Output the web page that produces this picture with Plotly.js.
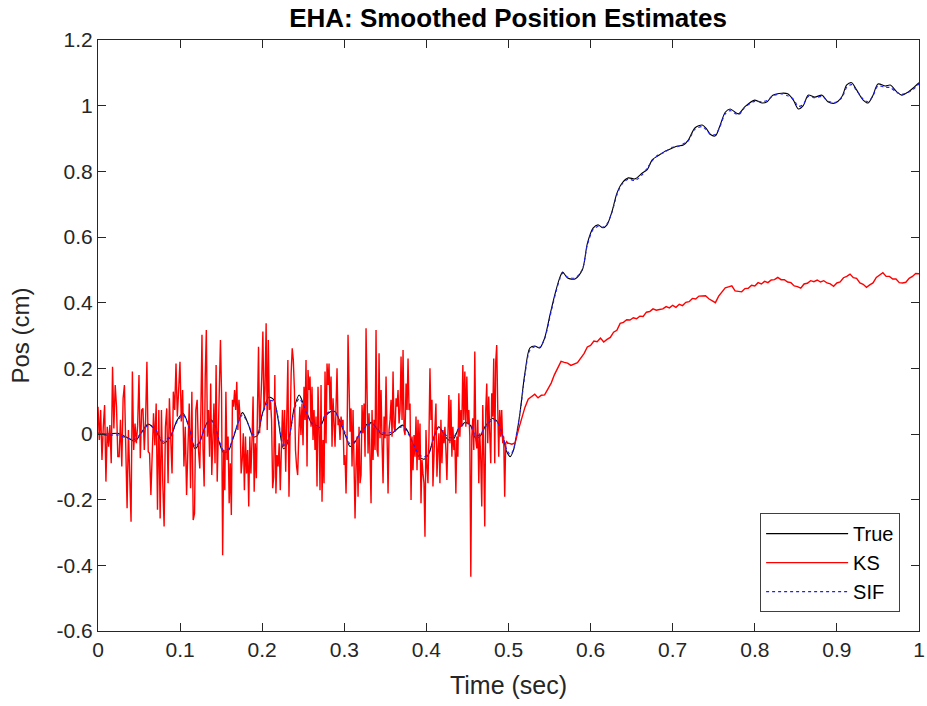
<!DOCTYPE html>
<html>
<head>
<meta charset="utf-8">
<script src="https://cdn.plot.ly/plotly-3.0.1.min.js"></script>
<style>html,body{margin:0;padding:0;background:#fff}#chart{width:927px;height:706px}</style>
</head>
<body>
<div id="chart"></div>
<script>
// ---- Data ----
// True position (irregular time samples) and SIF estimate at the same times
const trueT = [0,0.012,0.024,0.035,0.045,0.053,0.061,0.07,0.079,0.088,
0.096,0.1035,0.111,0.118,0.124,0.13,0.136,0.142,0.147,0.153,
0.159,0.165,0.176,0.183,0.189,0.194,0.2,0.208,0.214,0.219,
0.226,0.232,0.239,0.245,0.25,0.256,0.262,0.27,0.276,0.283,
0.289,0.295,0.301,0.307,0.313,0.32,0.327,0.333,0.339,0.345,
0.355,0.362,0.371,0.378,0.385,0.391,0.397,0.403,0.409,0.415,
0.421,0.427,0.433,0.439,0.448,0.454,0.46,0.466,0.472,0.481,
0.487,0.493,0.498,0.502,0.506,0.51,0.514,0.52,0.526,0.532,
0.538,0.544,0.551,0.557,0.563,0.566,0.572,0.581,0.59,0.596,
0.603,0.609,0.615,0.62,0.626,0.632,0.638,0.646,0.654,0.663,
0.669,0.675,0.682,0.69,0.699,0.706,0.713,0.719,0.727,0.736,
0.741,0.746,0.752,0.757,0.764,0.77,0.78,0.788,0.8,0.809,
0.815,0.822,0.833,0.84,0.847,0.853,0.859,0.865,0.873,0.882,
0.889,0.898,0.906,0.912,0.918,0.924,0.932,0.938,0.944,0.95,
0.959,0.965,0.973,0.979,0.987,0.993,1.0];
const trueY = [0.003,0.0,0.002,-0.01,-0.022,0.005,0.03,0.012,-0.028,-0.01,
0.04,0.063,0.02,-0.045,-0.025,0.02,0.045,0.03,-0.02,-0.057,
-0.05,-0.01,0.065,0.03,-0.008,-0.005,0.06,0.112,0.105,0.05,
-0.045,-0.02,0.08,0.119,0.093,0.055,0.024,0.02,0.05,0.068,
0.068,0.035,-0.002,-0.038,-0.025,0.008,0.028,0.035,0.018,0.0,
-0.003,0.01,0.027,0.005,-0.04,-0.069,-0.077,-0.06,-0.01,0.022,
0.0,-0.018,-0.015,0.015,0.036,0.025,-0.013,-0.005,0.025,0.048,
0.035,-0.01,-0.055,-0.069,-0.05,0.0,0.064,0.186,0.262,0.268,
0.262,0.292,0.368,0.43,0.48,0.493,0.475,0.472,0.5,0.58,
0.627,0.637,0.628,0.637,0.677,0.733,0.763,0.78,0.777,0.795,
0.805,0.835,0.847,0.86,0.87,0.877,0.88,0.895,0.932,0.941,
0.93,0.912,0.908,0.935,0.98,0.99,0.975,0.997,1.017,1.008,
1.012,1.032,1.038,1.036,1.017,0.99,1.0,1.032,1.026,1.032,
1.012,1.008,1.027,1.063,1.07,1.048,1.017,1.008,1.032,1.066,
1.06,1.063,1.042,1.032,1.042,1.054,1.07];
const sifY = [0.0,-0.004,-0.003,-0.012,-0.016,0.004,0.026,0.014,-0.022,-0.006,
0.036,0.058,0.022,-0.038,-0.022,0.018,0.042,0.03,-0.014,-0.05,
-0.045,-0.006,0.058,0.03,-0.002,0.002,0.058,0.1,0.1,0.055,
-0.035,-0.015,0.072,0.108,0.09,0.052,0.03,0.025,0.055,0.07,
0.065,0.038,0.004,-0.03,-0.022,0.005,0.024,0.032,0.02,0.005,
0.004,0.012,0.022,0.0,-0.035,-0.062,-0.07,-0.058,-0.012,0.02,
0.004,-0.01,-0.01,0.016,0.032,0.028,-0.006,0.0,0.022,0.044,
0.034,-0.004,-0.048,-0.062,-0.048,0.004,0.062,0.18,0.255,0.266,
0.264,0.29,0.362,0.425,0.476,0.49,0.478,0.475,0.502,0.575,
0.622,0.632,0.63,0.64,0.675,0.728,0.76,0.776,0.772,0.79,
0.81,0.832,0.85,0.858,0.873,0.875,0.884,0.893,0.928,0.936,
0.926,0.912,0.912,0.932,0.975,0.985,0.972,0.995,1.013,1.012,
1.016,1.03,1.036,1.03,1.02,0.998,1.004,1.028,1.024,1.028,
1.014,1.01,1.024,1.056,1.064,1.046,1.02,1.012,1.03,1.06,
1.056,1.055,1.04,1.035,1.04,1.05,1.066];

// KS estimate: noisy part in four consecutive time windows
const ksWindows = [0, 0.124, 0.2485, 0.374, 0.499];
const ksNoise1 = [0.083,-0.018,0.073,-0.079,0.022,0.088,-0.145,0.022,-0.039,0.027,
-0.089,0.205,0.017,0.149,0.083,-0.069,-0.069,0.043,-0.099,0.109,
0.149,-0.064,-0.226,0.012,-0.14,-0.267,0.19,-0.049,0.032,-0.028,
0.027,0.18,-0.074,0.073,0.078,-0.049,0.043,0.22,-0.054,-0.059,
-0.186,-0.079,0.063,-0.034,0.093,-0.231,0.073,-0.257,0.073,-0.15,
-0.282,0.022,0.078,-0.15,0.109,-0.013,-0.12,0.129,0.073,0.215,
0.053,0.134,0.22,0.038,0.134,-0.099,0.022,-0.186,-0.049,0.093,
-0.165,0.129,-0.262,-0.242,0.073,0.104,-0.049];
const ksNoise2 = [-0.105,0.073,0.302,-0.049,-0.16,0.175,0.317,-0.008,0.073,-0.069,
0.154,-0.125,-0.018,0.093,-0.089,0.21,-0.145,-0.023,0.093,0.286,
0.124,-0.369,-0.049,-0.171,0.129,-0.079,-0.008,-0.211,-0.089,-0.247,
0.104,0.083,0.134,0.073,0.159,0.012,0.104,0.053,-0.12,-0.079,
0.002,-0.171,-0.008,-0.12,-0.049,-0.221,-0.008,-0.12,-0.018,0.114,
-0.176,-0.028,-0.135,0.114,0.266,0.002,0.073,0.175,0.312,0.073,
0.139,0.337,0.012,0.286,0.073,0.104,0.043,-0.165,-0.13,0.18,
-0.181,-0.064,-0.099,-0.028,-0.171,0.012,0.073,-0.039,0.073,-0.115,
0.109,0.225,-0.191,0.073,0.185,0.261,0.225,0.134,-0.049,-0.099,
-0.125,-0.008,0.083,-0.003];
const ksNoise3 = [0.093,-0.034,0.144,0.043,0.225,-0.099,0.195,0.134,0.175,0.022,
0.144,-0.018,0.073,-0.049,0.053,-0.16,0.144,0.012,-0.171,0.149,
-0.206,-0.018,-0.15,0.19,-0.028,0.215,0.149,0.215,0.073,0.175,
-0.039,0.109,0.022,-0.039,0.083,0.2,0.027,0.043,-0.018,0.053,
0.027,0.043,-0.094,-0.064,-0.181,-0.028,0.302,0.078,0.007,0.078,
-0.099,0.073,-0.171,-0.257,-0.099,-0.008,-0.191,0.022,-0.15,-0.125,
0.088,0.002,0.093,-0.069,0.322,0.073,-0.059,0.063,-0.059,-0.211,
0.073,-0.079,0.043,-0.049,0.317,-0.049,-0.069,0.246,-0.013,0.134,
-0.028,-0.15,0.053,-0.013,0.175,-0.039,-0.181,0.012,0.043,0.104,
-0.008,0.19,0.022,0.007,0.109,0.083,0.134,0.032,0.073,0.236,
0.043,0.256,0.012];
const ksNoise4 = [-0.003,0.154,0.073,0.23,0.073,0.093,-0.201,-0.008,-0.11,-0.003,
-0.069,0.053,-0.11,0.043,-0.079,0.032,-0.211,-0.079,-0.12,-0.15,
-0.313,0.012,-0.099,-0.15,-0.008,0.2,0.043,0.104,-0.16,-0.039,
0.022,0.093,-0.13,-0.049,0.002,-0.15,0.043,-0.089,0.012,-0.028,
0.022,-0.049,-0.14,-0.008,0.119,-0.028,0.104,-0.069,0.022,-0.049,
-0.018,-0.181,-0.008,-0.069,0.124,-0.008,0.073,0.022,0.21,0.043,
0.19,0.022,0.175,0.032,0.073,-0.008,-0.435,-0.008,0.048,-0.049,
0.251,-0.018,-0.044,0.043,-0.15,0.002,-0.079,-0.221,0.088,-0.069,
-0.282,0.073,0.154,-0.028,0.114,0.002,-0.089,0.124,0.053,0.23,
-0.089,0.22,0.271,0.083,-0.069,0.073,-0.008,0.073,-0.028,-0.008,
-0.191,-0.028,-0.023,-0.028];
// KS estimate after the step: starts at t = 0.5, one sample every 0.004 s
const ksPostStart = 0.5, ksPostStep = 0.004;
const ksPost = [-0.028,-0.031,-0.027,0.012,0.05,0.081,0.106,0.113,0.121,0.11,
0.118,0.119,0.138,0.155,0.181,0.203,0.221,0.218,0.216,0.209,
0.212,0.217,0.231,0.245,0.265,0.27,0.283,0.281,0.292,0.28,
0.288,0.294,0.31,0.316,0.337,0.34,0.348,0.347,0.354,0.351,
0.359,0.358,0.371,0.373,0.381,0.377,0.379,0.381,0.388,0.384,
0.392,0.386,0.395,0.391,0.401,0.403,0.413,0.411,0.42,0.42,
0.421,0.412,0.407,0.4,0.42,0.431,0.445,0.448,0.451,0.436,
0.435,0.433,0.443,0.444,0.453,0.451,0.461,0.457,0.465,0.461,
0.469,0.47,0.477,0.47,0.47,0.463,0.461,0.451,0.449,0.444,
0.457,0.459,0.467,0.464,0.469,0.463,0.467,0.46,0.457,0.45,
0.46,0.463,0.476,0.48,0.487,0.476,0.474,0.46,0.456,0.447,
0.454,0.46,0.477,0.484,0.491,0.48,0.48,0.472,0.472,0.461,
0.46,0.462,0.474,0.48,0.489,0.488];

// Axis ticks
const xTickVals = [0,0.1,0.2,0.3,0.4,0.5,0.6,0.7,0.8,0.9,1];
const xTickText = ['0','0.1','0.2','0.3','0.4','0.5','0.6','0.7','0.8','0.9','1'];
const yTickVals = [-0.6,-0.4,-0.2,0,0.2,0.4,0.6,0.8,1,1.2];
const yTickText = ['-0.6','-0.4','-0.2','0','0.2','0.4','0.6','0.8','1','1.2'];

// ---- Build KS series ----
const ksT = [], ksY = [];
[ksNoise1, ksNoise2, ksNoise3, ksNoise4].forEach(function (arr, k) {
  const a = ksWindows[k], b = ksWindows[k + 1];
  const last = (k === 3);
  const n = arr.length;
  for (let i = 0; i < n; i++) {
    ksT.push(a + (b - a) * i / (last ? (n - 1) : n));
    ksY.push(arr[i]);
  }
});
ksPost.forEach(function (v, i) { ksT.push(ksPostStart + ksPostStep * i); ksY.push(v); });

const FONT = 'Liberation Sans, Arial, Helvetica, sans-serif';
const AX = '#262626';

const traces = [
  {x: trueT, y: trueY, name: 'True', type: 'scatter', mode: 'lines',
   line: {color: '#000000', width: 1.1, shape: 'spline', smoothing: 0.8}},
  {x: ksT, y: ksY, name: 'KS', type: 'scatter', mode: 'lines',
   line: {color: '#ff0000', width: 1.4}},
  {x: trueT, y: sifY, name: 'SIF', type: 'scatter', mode: 'lines',
   line: {color: '#2020ff', width: 1.1, dash: 'dot', shape: 'spline', smoothing: 0.8}}
];

const axisCommon = {
  showgrid: false, zeroline: false, showline: true, mirror: 'ticks',
  linecolor: AX, linewidth: 1, ticks: 'inside', ticklen: 8, tickwidth: 1,
  tickcolor: AX, tickfont: {family: FONT, size: 21, color: AX}
};

const layout = {
  width: 927, height: 706,
  margin: {l: 98, r: 8, t: 40, b: 75},
  paper_bgcolor: '#ffffff', plot_bgcolor: '#ffffff',
  title: {text: '<b>EHA: Smoothed Position Estimates</b>', font: {family: FONT, size: 26, color: '#000'},
          x: 0.548, xanchor: 'center', y: 0.974, yanchor: 'middle'},
  xaxis: Object.assign({}, axisCommon, {
    range: [0, 1], tickvals: xTickVals, ticktext: xTickText,
    title: {text: 'Time (sec)', font: {family: FONT, size: 25, color: AX}, standoff: 16}
  }),
  yaxis: Object.assign({}, axisCommon, {
    range: [-0.6, 1.2], tickvals: yTickVals, ticktext: yTickText,
    title: {text: 'Pos (cm)', font: {family: FONT, size: 24, color: AX}, standoff: 20}
  }),
  showlegend: true,
  legend: {x: 0.977, y: 0.032, xanchor: 'right', yanchor: 'bottom',
           bgcolor: '#ffffff', bordercolor: '#404040', borderwidth: 1,
           font: {family: FONT, size: 20, color: '#000'}, itemwidth: 82,
           traceorder: 'normal'}
};

Plotly.newPlot('chart', traces, layout, {staticPlot: true, displayModeBar: false});
</script>
</body>
</html>
